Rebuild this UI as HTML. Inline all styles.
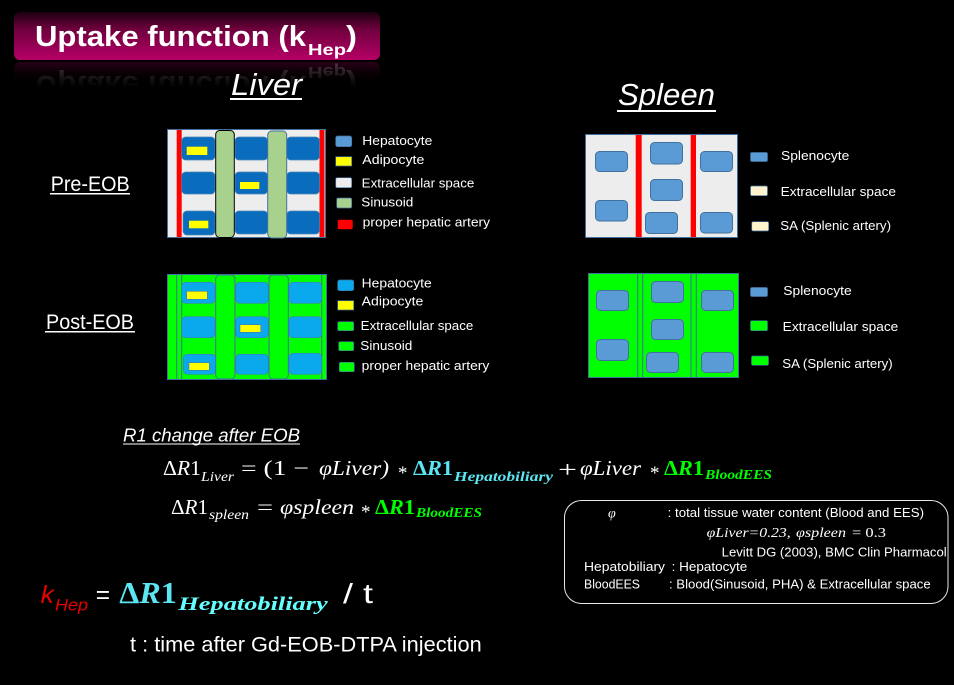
<!DOCTYPE html>
<html><head><meta charset="utf-8">
<style>
html,body{margin:0;padding:0;background:#000;width:954px;height:685px;overflow:hidden}
svg{display:block}
text{font-family:"Liberation Sans",sans-serif;fill:#fff}
.l{font-size:13px}
.m{font-family:"Liberation Serif",serif;font-style:italic}
.r{font-family:"Liberation Serif",serif}
.b{font-family:"Liberation Serif",serif;font-weight:bold}
.bi{font-family:"Liberation Serif",serif;font-weight:bold;font-style:italic}
.it{font-style:italic}
.h{fill:#0a6cbd;stroke:#4a86b8;stroke-width:.7}
.c{fill:#0aa9ee;stroke:#3f80b0;stroke-width:.7}
.s{fill:#5b9bd5;stroke:#41719c;stroke-width:1}
.y{fill:#ff0;stroke:#41719c;stroke-width:.5}
.gs{fill:#0f0;stroke:#41719c;stroke-width:1}
.ln{stroke:#41719c;stroke-width:1;fill:none}
</style></head><body>
<svg width="954" height="685" viewBox="0 0 954 685" xmlns="http://www.w3.org/2000/svg">
<defs>
<linearGradient id="tg" x1="0" y1="0" x2="0" y2="1"><stop offset="0" stop-color="#1c0010"/><stop offset=".35" stop-color="#6d003c"/><stop offset="1" stop-color="#b60066"/></linearGradient>
<linearGradient id="rg" x1="0" y1="0" x2="0" y2="1"><stop offset="0" stop-color="#3c0021"/><stop offset=".55" stop-color="#100008"/><stop offset="1" stop-color="#000"/></linearGradient>
<linearGradient id="fade" x1="0" y1="0" x2="0" y2="1"><stop offset="0" stop-color="#000" stop-opacity=".3"/><stop offset=".7" stop-color="#000" stop-opacity="1"/><stop offset="1" stop-color="#000" stop-opacity="1"/></linearGradient>
</defs>
<rect width="954" height="685" fill="#000"/>

<!-- title -->
<rect x="14" y="12" width="366" height="48" rx="6" fill="url(#tg)"/>
<text x="35" y="46" font-size="29" font-weight="bold" textLength="271" lengthAdjust="spacingAndGlyphs">Uptake function (k</text>
<text x="308" y="55" font-size="16" font-weight="bold" textLength="38" lengthAdjust="spacingAndGlyphs">Hep</text>
<text x="346" y="46" font-size="29" font-weight="bold" textLength="11" lengthAdjust="spacingAndGlyphs">)</text>
<rect x="14" y="62" width="366" height="26" rx="6" fill="url(#rg)"/>
<g transform="translate(0,122) scale(1,-1)" opacity=".3">
<text x="35" y="46" font-size="29" font-weight="bold" textLength="271" lengthAdjust="spacingAndGlyphs">Uptake function (k</text>
<text x="308" y="55" font-size="16" font-weight="bold" textLength="38" lengthAdjust="spacingAndGlyphs">Hep</text>
<text x="346" y="46" font-size="29" font-weight="bold" textLength="11" lengthAdjust="spacingAndGlyphs">)</text>
</g>
<rect x="14" y="62" width="366" height="36" fill="url(#fade)"/>

<!-- headings -->
<text x="231" y="95" font-size="31" font-style="italic" textLength="71" lengthAdjust="spacingAndGlyphs">Liver</text>
<rect x="230" y="98" width="72" height="2" fill="#fff"/>
<text x="618" y="105" font-size="31" font-style="italic" textLength="97" lengthAdjust="spacingAndGlyphs">Spleen</text>
<rect x="617" y="110" width="99" height="2" fill="#fff"/>
<text x="50.7" y="191" font-size="21" textLength="79" lengthAdjust="spacingAndGlyphs">Pre-EOB</text>
<rect x="50" y="193" width="80" height="1.5" fill="#fff"/>
<text x="46" y="329" font-size="21" textLength="88" lengthAdjust="spacingAndGlyphs">Post-EOB</text>
<rect x="45" y="331" width="90" height="1.5" fill="#fff"/>

<!-- liver pre -->
<rect x="167.5" y="129.5" width="158" height="108" fill="#ededed" stroke="#41719c"/>
<rect x="176.7" y="130" width="5" height="107" fill="#f00"/>
<rect x="319.5" y="130" width="5" height="107" fill="#f00"/>
<rect class="h" x="181.7" y="137" width="33.3" height="23" rx="4"/>
<rect class="h" x="181.7" y="172" width="33.3" height="22" rx="4"/>
<rect class="h" x="183" y="211" width="32" height="24" rx="4"/>
<rect class="h" x="235" y="137" width="32.7" height="23" rx="4"/>
<rect class="h" x="235" y="172" width="32.7" height="22" rx="4"/>
<rect class="h" x="235" y="211" width="32.7" height="23" rx="4"/>
<rect class="h" x="286.7" y="137" width="32.8" height="23" rx="4"/>
<rect class="h" x="286.7" y="172" width="32.8" height="22" rx="4"/>
<rect class="h" x="286.7" y="211" width="32.8" height="23" rx="4"/>
<rect x="186.7" y="146.7" width="20.6" height="8.3" fill="#ff0"/>
<rect x="240" y="182" width="19.3" height="7" fill="#ff0"/>
<rect x="189" y="220.7" width="19.3" height="7.6" fill="#ff0"/>
<rect x="215.7" y="130.5" width="18.6" height="107" rx="4" fill="#a9d18e" stroke="#000"/>
<rect x="267.7" y="131" width="19" height="107" rx="4" fill="#a9d18e" stroke="#41719c"/>
<rect x="335.7" y="136" width="16" height="10.7" rx="2" fill="#5b9bd5" stroke="#41719c" stroke-width=".7"/>
<rect x="335.7" y="156.7" width="16" height="9.3" fill="#ff0" stroke="#41719c" stroke-width=".7"/>
<rect x="335.7" y="177.7" width="16" height="10" rx="1.5" fill="#ededed" stroke="#41719c" stroke-width=".7"/>
<rect x="336.7" y="198" width="15" height="10" rx="1.5" fill="#a9d18e" stroke="#41719c" stroke-width=".7"/>
<rect x="337.7" y="219.7" width="15" height="9.6" rx="1.5" fill="#f00"/>
<text class="l" x="362.3" y="145" textLength="70" lengthAdjust="spacingAndGlyphs">Hepatocyte</text>
<text class="l" x="362.3" y="164" textLength="62" lengthAdjust="spacingAndGlyphs">Adipocyte</text>
<text class="l" x="361.7" y="187.7" textLength="112.6" lengthAdjust="spacingAndGlyphs">Extracellular space</text>
<text class="l" x="361.3" y="206.7" textLength="52" lengthAdjust="spacingAndGlyphs">Sinusoid</text>
<text class="l" x="362.7" y="226.7" textLength="127.3" lengthAdjust="spacingAndGlyphs">proper hepatic artery</text>

<!-- liver post -->
<rect x="167.5" y="274.5" width="159" height="105" fill="#0f0" stroke="#41719c"/>
<path class="ln" d="M176.7 275V379M181.7 275V379M321.7 275V379"/>
<rect class="c" x="181.7" y="282.3" width="33.3" height="21" rx="4"/>
<rect class="c" x="181.7" y="316.7" width="33.3" height="21" rx="4"/>
<rect class="c" x="183.3" y="354.3" width="32.4" height="20" rx="4"/>
<rect class="c" x="235.7" y="282.3" width="32.6" height="21" rx="4"/>
<rect class="c" x="235.7" y="316.7" width="32.6" height="21" rx="4"/>
<rect class="c" x="235.7" y="354.3" width="32.6" height="20" rx="4"/>
<rect class="c" x="289" y="282.3" width="32.7" height="21" rx="4"/>
<rect class="c" x="289" y="316.7" width="32.7" height="21" rx="4"/>
<rect class="c" x="289" y="353.3" width="32.7" height="21" rx="4"/>
<rect class="y" x="186.7" y="291.3" width="20.6" height="8"/>
<rect class="y" x="240" y="324.7" width="20.7" height="7.6"/>
<rect class="y" x="189" y="362.7" width="20.3" height="7.6"/>
<rect class="gs" x="215.7" y="275" width="19.3" height="104" rx="4"/>
<rect class="gs" x="269" y="275" width="19.3" height="104" rx="4"/>
<rect x="337.7" y="280" width="16" height="10.7" rx="2" fill="#0aa9ee" stroke="#41719c" stroke-width=".7"/>
<rect x="337.7" y="300.7" width="16" height="9.3" fill="#ff0" stroke="#41719c" stroke-width=".7"/>
<rect x="337.7" y="321.7" width="16" height="9" rx="1.5" fill="#0f0" stroke="#41719c" stroke-width=".7"/>
<rect x="338.7" y="341.7" width="15" height="9" rx="1.5" fill="#0f0" stroke="#41719c" stroke-width=".7"/>
<rect x="339.3" y="362.3" width="15" height="9.4" rx="1.5" fill="#0f0" stroke="#41719c" stroke-width=".7"/>
<text class="l" x="361.7" y="287.7" textLength="70" lengthAdjust="spacingAndGlyphs">Hepatocyte</text>
<text class="l" x="361.7" y="305.7" textLength="61.6" lengthAdjust="spacingAndGlyphs">Adipocyte</text>
<text class="l" x="360.7" y="330" textLength="112.6" lengthAdjust="spacingAndGlyphs">Extracellular space</text>
<text class="l" x="360.3" y="350" textLength="52" lengthAdjust="spacingAndGlyphs">Sinusoid</text>
<text class="l" x="361.7" y="370" textLength="127.6" lengthAdjust="spacingAndGlyphs">proper hepatic artery</text>

<!-- spleen pre -->
<rect x="585.5" y="134.5" width="152" height="103" fill="#ededed" stroke="#41719c"/>
<rect x="635.7" y="135" width="6" height="102" fill="#f00"/>
<rect x="690.7" y="135" width="5.3" height="102" fill="#f00"/>
<rect class="s" x="595.5" y="151.5" width="32" height="20" rx="4"/>
<rect class="s" x="595.5" y="200.5" width="32" height="20.5" rx="4"/>
<rect class="s" x="650.5" y="142.5" width="32" height="21.5" rx="4"/>
<rect class="s" x="650.5" y="179.5" width="32" height="21" rx="4"/>
<rect class="s" x="645.5" y="212.5" width="32" height="21" rx="4"/>
<rect class="s" x="700.5" y="151.5" width="32" height="20" rx="4"/>
<rect class="s" x="700.5" y="212.5" width="32" height="20.5" rx="4"/>
<rect x="750.5" y="152.5" width="17" height="9" rx="1.5" fill="#5b9bd5" stroke="#41719c" stroke-width=".7"/>
<rect x="750.5" y="186" width="17" height="9.7" rx="1.5" fill="#fff2cc" stroke="#41719c" stroke-width=".7"/>
<rect x="751.7" y="221.7" width="17" height="9.3" rx="1.5" fill="#fff2cc" stroke="#41719c" stroke-width=".7"/>
<text class="l" x="781" y="160" textLength="68.3" lengthAdjust="spacingAndGlyphs">Splenocyte</text>
<text class="l" x="780.7" y="196" textLength="115.3" lengthAdjust="spacingAndGlyphs">Extracellular  space</text>
<text class="l" x="780.3" y="230" textLength="110.7" lengthAdjust="spacingAndGlyphs">SA (Splenic artery)</text>

<!-- spleen post -->
<rect x="588.5" y="273.5" width="150" height="104" fill="#0f0" stroke="#41719c"/>
<path class="ln" d="M637.7 274V377M642.7 274V377M691 274V377M696.3 274V377"/>
<rect class="s" x="596.5" y="290.5" width="32" height="20" rx="4"/>
<rect class="s" x="596.5" y="339.5" width="32" height="21" rx="4"/>
<rect class="s" x="651.5" y="281.5" width="32" height="21" rx="4"/>
<rect class="s" x="651.5" y="319.5" width="32" height="20" rx="4"/>
<rect class="s" x="646.5" y="352.5" width="32" height="20" rx="4"/>
<rect class="s" x="701.5" y="290.5" width="32" height="20" rx="4"/>
<rect class="s" x="701.5" y="352.5" width="32" height="20" rx="4"/>
<rect x="750.5" y="287.5" width="17" height="9" rx="1.5" fill="#5b9bd5" stroke="#41719c" stroke-width=".7"/>
<rect x="750.5" y="320.7" width="17" height="10" rx="1.5" fill="#0f0" stroke="#41719c" stroke-width=".7"/>
<rect x="751.5" y="356" width="17" height="9.3" rx="1.5" fill="#0f0" stroke="#41719c" stroke-width=".7"/>
<text class="l" x="783.3" y="295" textLength="68.4" lengthAdjust="spacingAndGlyphs">Splenocyte</text>
<text class="l" x="782.7" y="331" textLength="115.6" lengthAdjust="spacingAndGlyphs">Extracellular  space</text>
<text class="l" x="782.3" y="368" textLength="110.4" lengthAdjust="spacingAndGlyphs">SA (Splenic artery)</text>

<!-- equations -->
<text x="123" y="441.7" font-size="18" font-style="italic" textLength="177" lengthAdjust="spacingAndGlyphs">R1 change after EOB</text>
<rect x="123" y="443.5" width="177" height="1" fill="#fff"/>

<text class="r" x="163" y="475" font-size="21" textLength="38" lengthAdjust="spacingAndGlyphs">Δ<tspan class="it">R</tspan>1</text>
<text class="m" x="201" y="481" font-size="14" textLength="33" lengthAdjust="spacingAndGlyphs">Liver</text>
<text class="r" x="241" y="475" font-size="21" textLength="68" lengthAdjust="spacingAndGlyphs">= (1  −</text>
<text class="m" x="319" y="475" font-size="21" textLength="70" lengthAdjust="spacingAndGlyphs">φLiver)</text>
<text class="r" x="398" y="479" font-size="19">*</text>
<text class="b" x="413" y="475" font-size="21" textLength="40" lengthAdjust="spacingAndGlyphs" style="fill:#5ce6f2">Δ<tspan class="it">R</tspan>1</text>
<text class="bi" x="454" y="481" font-size="14" textLength="99" lengthAdjust="spacingAndGlyphs" style="fill:#5ce6f2">Hepatobiliary</text>
<text class="r" x="558" y="477" font-size="23" textLength="19" lengthAdjust="spacingAndGlyphs">+</text>
<text class="m" x="580" y="475" font-size="21" textLength="61" lengthAdjust="spacingAndGlyphs">φLiver</text>
<text class="r" x="650" y="479" font-size="19">*</text>
<text class="b" x="664" y="475" font-size="21" textLength="40" lengthAdjust="spacingAndGlyphs" style="fill:#0f0">Δ<tspan class="it">R</tspan>1</text>
<text class="bi" x="705" y="479" font-size="14" textLength="67" lengthAdjust="spacingAndGlyphs" style="fill:#0f0">BloodEES</text>

<text class="r" x="171" y="514" font-size="21" textLength="37" lengthAdjust="spacingAndGlyphs">Δ<tspan class="it">R</tspan>1</text>
<text class="m" x="209" y="519" font-size="14" textLength="40" lengthAdjust="spacingAndGlyphs">spleen</text>
<text class="r" x="257" y="514" font-size="21" textLength="16" lengthAdjust="spacingAndGlyphs">=</text>
<text class="m" x="280" y="514" font-size="21" textLength="74" lengthAdjust="spacingAndGlyphs">φspleen</text>
<text class="r" x="361" y="518" font-size="19">*</text>
<text class="b" x="375" y="514" font-size="21" textLength="40" lengthAdjust="spacingAndGlyphs" style="fill:#0f0">Δ<tspan class="it">R</tspan>1</text>
<text class="bi" x="416" y="517" font-size="14" textLength="66" lengthAdjust="spacingAndGlyphs" style="fill:#0f0">BloodEES</text>

<!-- note box -->
<rect x="564.5" y="500.5" width="383.5" height="103" rx="17" fill="#000" stroke="#e8e8e8"/>
<text class="m" x="608" y="517.7" font-size="14">φ</text>
<text class="l" x="667.7" y="517" textLength="256.3" lengthAdjust="spacingAndGlyphs">: total tissue water content (Blood and EES)</text>
<text class="m" x="706.7" y="537" font-size="14" textLength="84" lengthAdjust="spacingAndGlyphs">φLiver=0.23,</text>
<text class="m" x="796" y="537" font-size="14" textLength="50" lengthAdjust="spacingAndGlyphs">φspleen</text>
<text class="r" x="852" y="537" font-size="14" textLength="34" lengthAdjust="spacingAndGlyphs">= 0.3</text>
<text class="l" x="721.7" y="556.7" textLength="225" lengthAdjust="spacingAndGlyphs">Levitt DG (2003),  BMC Clin Pharmacol</text>
<text class="l" x="584" y="571" textLength="81" lengthAdjust="spacingAndGlyphs">Hepatobiliary</text>
<text class="l" x="671.7" y="571" textLength="75.6" lengthAdjust="spacingAndGlyphs">: Hepatocyte</text>
<text class="l" x="584" y="588.3" textLength="56" lengthAdjust="spacingAndGlyphs">BloodEES</text>
<text class="l" x="669" y="588.3" textLength="261.7" lengthAdjust="spacingAndGlyphs">:  Blood(Sinusoid, PHA) &amp; Extracellular space</text>

<!-- bottom formula -->
<text x="40.7" y="603" font-size="25" font-style="italic" textLength="13.3" lengthAdjust="spacingAndGlyphs" style="fill:#e60000">k</text>
<text x="55" y="610.7" font-size="17" font-style="italic" textLength="33" lengthAdjust="spacingAndGlyphs" style="fill:#e60000">Hep</text>
<text x="95.7" y="603" font-size="25" textLength="14.3" lengthAdjust="spacingAndGlyphs">=</text>
<text class="b" x="119.3" y="603" font-size="31" textLength="57.4" lengthAdjust="spacingAndGlyphs" style="fill:#5ce6f2">Δ<tspan class="it">R</tspan>1</text>
<text class="bi" x="178.3" y="610" font-size="19" textLength="149.4" lengthAdjust="spacingAndGlyphs" style="fill:#66ffff">Hepatobiliary</text>
<text x="343" y="603" font-size="28" textLength="30" lengthAdjust="spacingAndGlyphs">/ t</text>
<text x="130" y="651.7" font-size="21" textLength="351.7" lengthAdjust="spacingAndGlyphs">t : time after Gd-EOB-DTPA injection</text>
</svg>
</body></html>
